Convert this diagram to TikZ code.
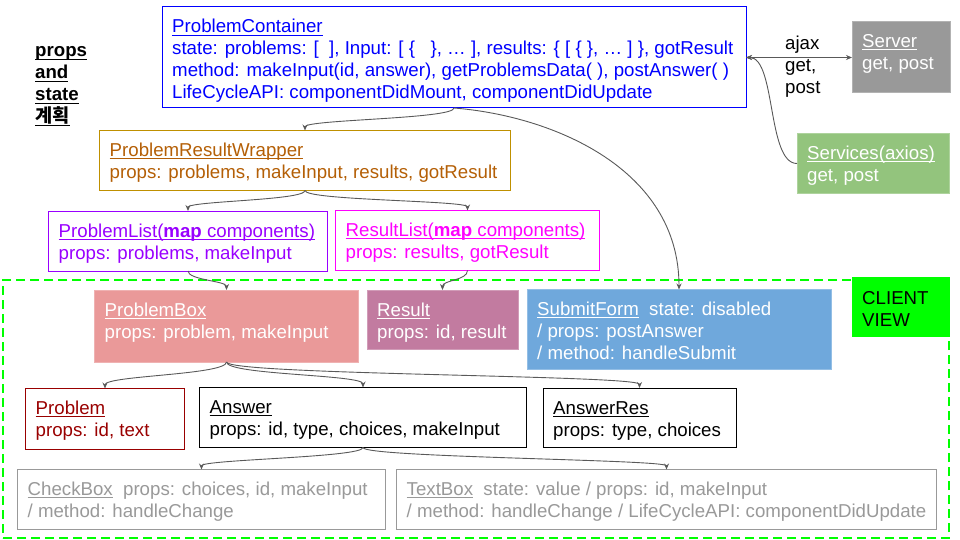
\documentclass[tikz,border=0pt]{standalone}
\usepackage{fontspec}
\setmainfont{Liberation Sans}
\newfontfamily\krfont{Noto Sans CJK KR}
\usetikzlibrary{arrows.meta}
\definecolor{pcblue}{HTML}{0000FF}
\definecolor{prwborder}{HTML}{BF9000}
\definecolor{prwtext}{HTML}{B45F06}
\definecolor{plpurple}{HTML}{9900FF}
\definecolor{rlmag}{HTML}{FF00FF}
\definecolor{srvgray}{HTML}{999999}
\definecolor{svcgreen}{HTML}{93C47D}
\definecolor{cvgreen}{HTML}{00FF00}
\definecolor{pbfill}{HTML}{EA9999}
\definecolor{resfill}{HTML}{C27BA0}
\definecolor{sffill}{HTML}{6FA8DC}
\definecolor{probred}{HTML}{990000}
\definecolor{ltgray}{HTML}{999999}
\definecolor{connc}{HTML}{595959}
\newlength\ulwd
\newcommand\ulx[1]{\settowidth\ulwd{#1}\rlap{\rule[-2.8pt]{\ulwd}{1pt}}#1}
\begin{document}
\begin{tikzpicture}[x=1pt,y=-1pt,
  font=\fontsize{18.67pt}{22pt}\selectfont,
  bx/.style 2 args={anchor=north west, inner sep=0pt, outer sep=0pt, minimum width=#1, minimum height=#2},
  txt/.style={anchor=base west, align=left, inner sep=0pt},
  filled/.style={fill=#1, draw=#1!75!white, line width=0.6pt},
  conn/.style={draw=connc, line width=0.9pt, -{Stealth[length=6pt,width=5pt]}},
  tip/.tip={Stealth[length=6pt,width=5pt]}]
\useasboundingbox (0,0) rectangle (960,540);

% client view region
\node[bx={946pt}{258pt}, draw=cvgreen, dash pattern=on 9pt off 5pt, line width=1.6pt] (client) at (3,280) {};
\node[bx={98pt}{60pt}, fill=cvgreen] (cv) at (852,277) {};
\node[txt] (cv-t) at ([shift={(10,49)}]cv.north west) {CLIENT\\VIEW};

% title
\node[txt, font=\fontsize{18.67pt}{22pt}\selectfont\bfseries] (title) at (35,123)
 {\ulx{props}\\\ulx{and}\\\ulx{state}\\\krfont\bfseries\ulx{계획}};

% ProblemContainer
\node[bx={584pt}{101pt}, draw=pcblue, line width=1pt] (pc) at (162,7) {};
\node[txt, text=pcblue] (pc-t) at ([shift={(10,92)}]pc.north west)
 {\ulx{ProblemContainer}\\
  state: problems: [\ \ ], Input: [ \{\ \ \ \}, … ], results: \{ [ \{ \}, … ] \}, gotResult\\
  method: makeInput(id, answer), getProblemsData( ), postAnswer( )\\
  LifeCycleAPI: componentDidMount, componentDidUpdate};

% Server / Services
\node[bx={98pt}{71pt}, filled=srvgray] (srv) at (852,21.5) {};
\node[txt, text=white] (srv-t) at ([shift={(10,48)}]srv.north west) {\ulx{Server}\\get, post};
\node[bx={152pt}{60pt}, filled=svcgreen] (svc) at (797,133.5) {};
\node[txt, text=white] (svc-t) at ([shift={(10,48)}]svc.north west) {\ulx{Services(axios)}\\get, post};
\node[txt] (ajax) at (785,94) {ajax\\get,\\post};

% ProblemResultWrapper
\node[bx={411pt}{60pt}, draw=prwborder, line width=1pt] (prw) at (99.5,130.5) {};
\node[txt, text=prwtext] (prw-t) at ([shift={(10,48)}]prw.north west)
 {\ulx{ProblemResultWrapper}\\props: problems, makeInput, results, gotResult};

% Lists
\node[bx={279pt}{60pt}, draw=plpurple, line width=1pt] (pl) at (48.5,211) {};
\node[txt, text=plpurple] (pl-t) at ([shift={(10,48)}]pl.north west)
 {\ulx{ProblemList(\textbf{map} components)}\\props: problems, makeInput};
\node[bx={264pt}{60pt}, draw=rlmag, line width=1pt] (rl) at (335.5,210.5) {};
\node[txt, text=rlmag] (rl-t) at ([shift={(10,48)}]rl.north west)
 {\ulx{ResultList(\textbf{map} components)}\\props: results, gotResult};

% client boxes
\node[bx={264pt}{72pt}, filled=pbfill] (pb) at (94.5,290) {};
\node[txt, text=white] (pb-t) at ([shift={(10,48)}]pb.north west) {\ulx{ProblemBox}\\props: problem, makeInput};
\node[bx={151pt}{59pt}, filled=resfill] (res) at (367,290) {};
\node[txt, text=white] (res-t) at ([shift={(10,48)}]res.north west) {\ulx{Result}\\props: id, result};
\node[bx={304pt}{80pt}, filled=sffill] (sf) at (527,289.5) {};
\node[txt, text=white] (sf-t) at ([shift={(10,70)}]sf.north west)
 {\ulx{SubmitForm}\ \ state: disabled\\/ props: postAnswer\\/ method: handleSubmit};

\node[bx={159pt}{61pt}, draw=probred, line width=1pt] (prob) at (25.5,388.5) {};
\node[txt, text=probred] (prob-t) at ([shift={(10,48)}]prob.north west) {\ulx{Problem}\\props: id, text};
\node[bx={327pt}{60pt}, draw=black, line width=1pt] (ans) at (199.5,387.5) {};
\node[txt] (ans-t) at ([shift={(10,48)}]ans.north west) {\ulx{Answer}\\props: id, type, choices, makeInput};
\node[bx={193pt}{59pt}, draw=black, line width=1pt] (ar) at (543,388) {};
\node[txt] (ar-t) at ([shift={(10,48)}]ar.north west) {\ulx{AnswerRes}\\props: type, choices};

\node[bx={368pt}{60pt}, draw=ltgray, line width=1pt] (cb) at (17.5,469.5) {};
\node[txt, text=ltgray] (cb-t) at ([shift={(10,48)}]cb.north west)
 {\ulx{CheckBox}\ \ props: choices, id, makeInput\\/ method: handleChange};
\node[bx={540pt}{60pt}, draw=ltgray, line width=1pt] (tb) at (396.5,469.5) {};
\node[txt, text=ltgray] (tb-t) at ([shift={(10,48)}]tb.north west)
 {\ulx{TextBox}\ \ state: value / props: id, makeInput\\/ method: handleChange / LifeCycleAPI: componentDidUpdate};

% connectors
\draw[conn] (pc.south) .. controls +(0,11) and +(0,-11) .. (prw.north);
\draw[conn] (pc.south) .. controls +(100,8) and +(0,-120) .. (sf.north);
\draw[conn, tip-tip] (pc.east) -- (pc.east -| srv.west);
\draw[conn] (svc.west) .. controls +(-30,0) and +(30,0) .. (pc.east);
\draw[conn] (prw.south) .. controls +(0,10) and +(0,-10) .. (pl.north);
\draw[conn] (prw.south) .. controls +(0,10) and +(0,-10) .. (rl.north);
\draw[conn] (pl.south) .. controls +(0,9) and +(0,-9) .. (pb.north);
\draw[conn] (rl.south) .. controls +(0,10) and +(0,-10) .. (res.north);
\draw[conn] (pb.south) .. controls +(0,13) and +(0,-13) .. (prob.north);
\draw[conn] (pb.south) .. controls +(0,13) and +(0,-13) .. (ans.north);
\draw[conn] (pb.south) .. controls +(0,13) and +(0,-13) .. (ar.north);
\draw[conn] (ans.south) .. controls +(0,10) and +(0,-10) .. (cb.north);
\draw[conn] (ans.south) .. controls +(0,10) and +(0,-10) .. (tb.north);
\end{tikzpicture}
\end{document}
